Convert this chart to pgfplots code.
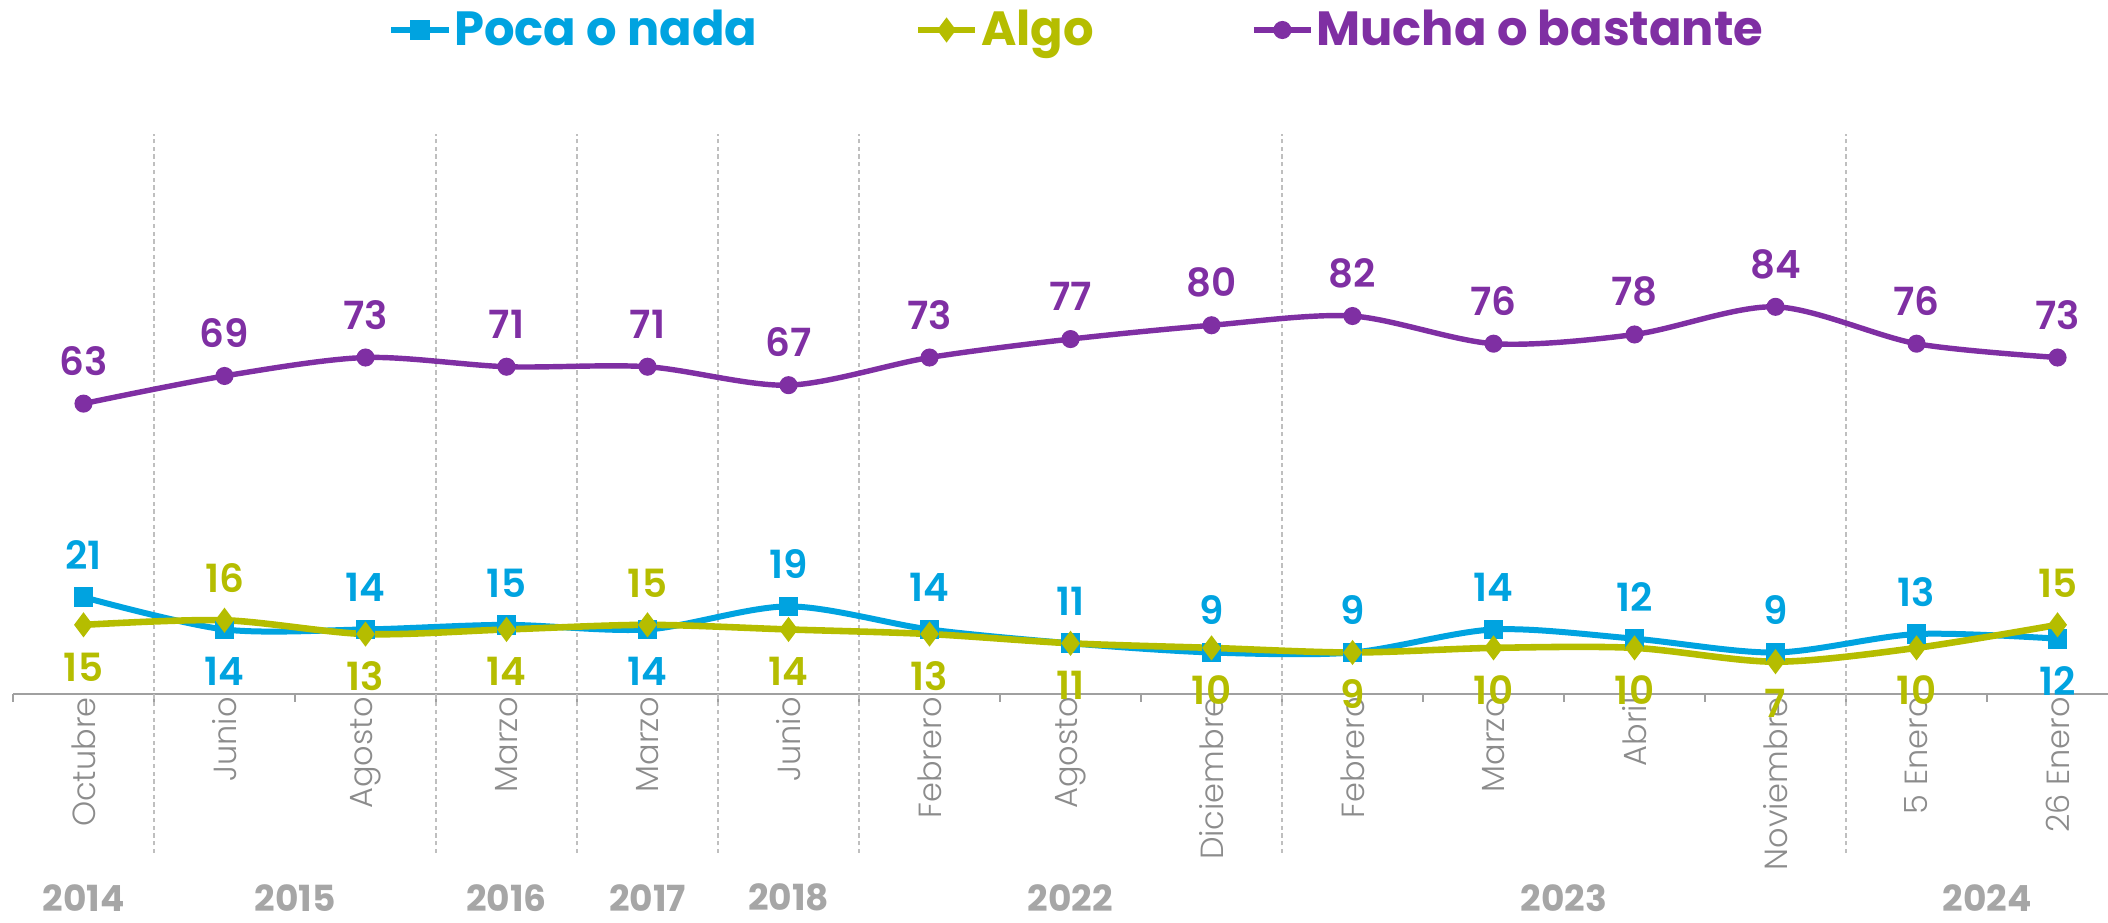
\documentclass[border=0pt]{standalone}
\usepackage{pgfplots}
\usepackage{pgfplotstable}
\pgfplotsset{compat=1.18}
\usepackage{fontspec}
\setmainfont{Poppins}
\IfFontExistsTF{Poppins Light}{\newfontfamily\lightfont{Poppins Light}}{\newfontfamily\lightfont{Poppins}}
\IfFontExistsTF{Poppins SemiBold}{\newfontfamily\semifont{Poppins SemiBold}}{\newcommand\semifont{\bfseries}}
\definecolor{pocac}{HTML}{00A3E0}
\definecolor{algoc}{HTML}{B5BD00}
\definecolor{muchac}{HTML}{7F2FA3}
\definecolor{monthc}{HTML}{8C8C8C}
\definecolor{yearc}{HTML}{A6A6A6}
\definecolor{sepc}{HTML}{BFBFBF}
\definecolor{axisc}{HTML}{A0A0A0}
\pgfplotstableread{
x poca pp algo ap mucha
0 21 1 15 -1 63
1 14 -1 16 1 69
2 14 1 13 -1 73
3 15 1 14 -1 71
4 14 -1 15 1 71
5 19 1 14 -1 67
6 14 1 13 -1 73
7 11 1 11 -1 77
8 9 1 10 -1 80
9 9 1 9 -1 82
10 14 1 10 -1 76
11 12 1 10 -1 78
12 9 1 7 -1 84
13 13 1 10 -1 76
14 12 -1 15 1 73
}\data
\begin{document}
\begin{tikzpicture}
\begin{axis}[
 at={(0pt,0pt)}, anchor=south west,
 scale only axis, width=733.25pt, height=251.65pt,
 xmin=-0.5, xmax=14.358, ymin=-34.5, ymax=121.5,
 /pgf/number format/assume math mode=true,
 axis x line=middle, axis y line=none, ytick=\empty,
 x axis line style={-, draw=axisc, line width=0.7pt},
 xtick={0,...,14},
 xticklabels={Octubre,Junio,Agosto,Marzo,Marzo,Junio,Febrero,Agosto,Diciembre,Febrero,Marzo,Abril,Noviembre,5 Enero,26 Enero},
 major tick length=0pt,
 minor xtick={-0.5,0.5,...,14.5},
 minor tick length=2.8pt, tick align=outside,
 minor tick style={draw=axisc, line width=0.7pt},
 xticklabel style={rotate=90, anchor=east, inner sep=0pt, xshift=-1pt, font=\lightfont\fontsize{11.2}{12}\selectfont, text=monthc},
 clip=false,
 legend columns=3,
 legend style={at={(0.508,1.1446)}, anchor=center, draw=none, fill=none,
   font=\bfseries\fontsize{16.8}{20}\selectfont,
   /tikz/every even column/.append style={column sep=54pt},
   inner sep=0pt, nodes={inner sep=1pt}},
 legend image code/.code={\draw[mark repeat=2,mark phase=2,#1] plot coordinates {(0pt,0pt)(10pt,0pt)(20pt,0pt)};},
 nodes near coords style={font=\semifont\fontsize{13.6}{15}\selectfont, anchor=center},
]
\addplot[sepc, dash pattern=on 1.5pt off 1.2pt, line width=0.45pt, forget plot] coordinates {(0.5,-34.5)(0.5,121.5)};
\addplot[sepc, dash pattern=on 1.5pt off 1.2pt, line width=0.45pt, forget plot] coordinates {(2.5,-34.5)(2.5,121.5)};
\addplot[sepc, dash pattern=on 1.5pt off 1.2pt, line width=0.45pt, forget plot] coordinates {(3.5,-34.5)(3.5,121.5)};
\addplot[sepc, dash pattern=on 1.5pt off 1.2pt, line width=0.45pt, forget plot] coordinates {(4.5,-34.5)(4.5,121.5)};
\addplot[sepc, dash pattern=on 1.5pt off 1.2pt, line width=0.45pt, forget plot] coordinates {(5.5,-34.5)(5.5,121.5)};
\addplot[sepc, dash pattern=on 1.5pt off 1.2pt, line width=0.45pt, forget plot] coordinates {(8.5,-34.5)(8.5,121.5)};
\addplot[sepc, dash pattern=on 1.5pt off 1.2pt, line width=0.45pt, forget plot] coordinates {(12.5,-34.5)(12.5,121.5)};

\addplot[pocac, line width=2.1pt, smooth, mark=square*, mark size=2.4pt, mark options={solid},
  nodes near coords, visualization depends on={\thisrow{pp}\as\lp},
  every node near coord/.append style={yshift=\lp*14.7pt, text=pocac}]
  table[x=x, y=poca]{\data};
\addlegendentry{\textcolor{pocac}{Poca o nada}}
\addplot[algoc, line width=2.3pt, smooth, mark=diamond*, mark size=2.5pt, mark options={solid},
  nodes near coords, visualization depends on={\thisrow{ap}\as\la},
  every node near coord/.append style={yshift=\la*14.7pt, text=algoc}]
  table[x=x, y=algo]{\data};
\addlegendentry{\textcolor{algoc}{Algo}}
\addplot[muchac, line width=1.9pt, smooth, mark=*, mark size=2.2pt, mark options={solid},
  nodes near coords,
  every node near coord/.append style={yshift=15pt, text=muchac}]
  table[x=x, y=mucha]{\data};
\addlegendentry{\textcolor{muchac}{Mucha o bastante}}

\node[inner sep=0pt, font=\bfseries\fontsize{12.6}{14}\selectfont, text=yearc] at (axis cs:0,-44.2) {2014};
\node[inner sep=0pt, font=\bfseries\fontsize{12.6}{14}\selectfont, text=yearc] at (axis cs:1.5,-44.2) {2015};
\node[inner sep=0pt, font=\bfseries\fontsize{12.6}{14}\selectfont, text=yearc] at (axis cs:3,-44.2) {2016};
\node[inner sep=0pt, font=\bfseries\fontsize{12.6}{14}\selectfont, text=yearc] at (axis cs:4,-44.2) {2017};
\node[inner sep=0pt, font=\bfseries\fontsize{12.6}{14}\selectfont, text=yearc] at (axis cs:5,-44.2) {2018};
\node[inner sep=0pt, font=\bfseries\fontsize{12.6}{14}\selectfont, text=yearc] at (axis cs:7,-44.2) {2022};
\node[inner sep=0pt, font=\bfseries\fontsize{12.6}{14}\selectfont, text=yearc] at (axis cs:10.5,-44.2) {2023};
\node[inner sep=0pt, font=\bfseries\fontsize{12.6}{14}\selectfont, text=yearc] at (axis cs:13.5,-44.2) {2024};
\end{axis}
\pgfresetboundingbox
\path (-4.55pt,-24.5pt) rectangle (733.25pt,298.55pt);
\end{tikzpicture}
\end{document}
